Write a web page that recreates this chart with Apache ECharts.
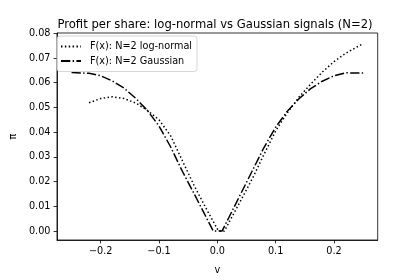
<!DOCTYPE html>
<html>
<head>
<meta charset="utf-8">
<script src="https://cdn.jsdelivr.net/npm/echarts@6/dist/echarts.min.js"></script>
<style>html,body{margin:0;padding:0;background:#fff}#c{width:420px;height:280px}</style>
</head>
<body>
<div id="c"></div>
<script>
const titleText = 'Profit per share: log-normal vs Gaussian signals (N=2)';
const seriesNames = ['F(x): N=2 log-normal', 'F(x): N=2 Gaussian'];
const xTicks = [-0.2, -0.1, 0.0, 0.1, 0.2];
const yTicks = [0.00, 0.01, 0.02, 0.03, 0.04, 0.05, 0.06, 0.07, 0.08];

const vLogn = [-0.22, -0.20, -0.18, -0.16, -0.14, -0.12, -0.10, -0.08, -0.06, -0.04, -0.02, 0.002, 0.012, 0.02, 0.04, 0.06, 0.08, 0.10, 0.12, 0.14, 0.16, 0.18, 0.20, 0.22, 0.25];
const piLogn = [0.0519, 0.0536, 0.0543, 0.0536, 0.0518, 0.0488, 0.0450, 0.0385, 0.0285, 0.0185, 0.0095, 0.0, 0.0, 0.0035, 0.0123, 0.0212, 0.0310, 0.0405, 0.0478, 0.0542, 0.0594, 0.0643, 0.0685, 0.0719, 0.0758];

const vGauss = [-0.25, -0.22, -0.20, -0.18, -0.16, -0.14, -0.12, -0.10, -0.08, -0.06, -0.04, -0.02, -0.007, 0.008, 0.02, 0.04, 0.06, 0.08, 0.10, 0.12, 0.14, 0.16, 0.18, 0.20, 0.22, 0.25];
const piGauss = [0.0641, 0.0638, 0.0628, 0.0607, 0.0578, 0.0537, 0.0488, 0.0425, 0.0340, 0.0242, 0.0152, 0.0060, 0.0, 0.0, 0.0056, 0.0150, 0.0244, 0.0338, 0.0420, 0.0485, 0.0535, 0.0576, 0.0606, 0.0628, 0.0640, 0.0639];

const zip = (a, b) => a.map((v, i) => [v, b[i]]);
const FONT = 'DejaVu Sans';
const chart = echarts.init(document.getElementById('c'), null, {renderer: 'canvas'});
chart.setOption({
  animation: false,
  backgroundColor: '#fff',
  title: {
    text: titleText, left: 215, top: 18, textAlign: 'center', padding: 0,
    textStyle: {fontFamily: FONT, fontSize: 11.6, fontWeight: 'normal', color: '#000', lineHeight: 14}
  },
  legend: {
    orient: 'vertical', left: 57, top: 36,
    padding: [5, 5, 5, 3], itemGap: 3.5, itemWidth: 20, itemHeight: 11,
    borderColor: '#cccccc', borderWidth: 0.8, borderRadius: 3, backgroundColor: 'rgba(255,255,255,0.8)',
    itemStyle: {opacity: 0},
    textStyle: {fontFamily: FONT, fontSize: 9.7, color: '#000', lineHeight: 11, padding: [0, 0, 0, 4]},
    data: seriesNames
  },
  grid: {left: 52.3, right: 42.3, top: 33, bottom: 35.3, show: true, borderColor: '#000', borderWidth: 0.8, backgroundColor: 'transparent'},
  xAxis: {
    type: 'value', min: -0.275, max: 0.275,
    name: 'v', nameLocation: 'middle', nameGap: 25,
    nameTextStyle: {fontFamily: FONT, fontSize: 9.7, color: '#000'},
    axisLine: {show: true, onZero: false, lineStyle: {color: '#000', width: 0.8}},
    axisTick: {show: true, length: 3.4, lineStyle: {color: '#000', width: 0.8}, customValues: xTicks},
    axisLabel: {fontFamily: FONT, fontSize: 9.7, color: '#000', margin: 6, customValues: xTicks,
      formatter: v => v.toFixed(1).replace('-', '\u2212')},
    splitLine: {show: false}
  },
  yAxis: {
    type: 'value', min: -0.0036, max: 0.0801,
    name: 'π', nameLocation: 'middle', nameGap: 38, nameRotate: 90,
    nameTextStyle: {fontFamily: FONT, fontSize: 9.7, color: '#000'},
    axisLine: {show: true, onZero: false, lineStyle: {color: '#000', width: 0.8}},
    axisTick: {show: true, length: 3.4, lineStyle: {color: '#000', width: 0.8}, customValues: yTicks},
    axisLabel: {fontFamily: FONT, fontSize: 9.7, color: '#000', margin: 6.5, customValues: yTicks,
      formatter: v => v.toFixed(2)},
    splitLine: {show: false}
  },
  series: [
    {name: seriesNames[0], type: 'line', data: zip(vLogn, piLogn), showSymbol: false, symbol: 'none',
      lineStyle: {color: '#000', width: 1.5, type: [1.46, 2.4]}, itemStyle: {color: '#000'}},
    {name: seriesNames[1], type: 'line', data: zip(vGauss, piGauss), showSymbol: false, symbol: 'none',
      lineStyle: {color: '#000', width: 1.5, type: [9.3, 2.33, 1.46, 2.33]}, itemStyle: {color: '#000'}}
  ]
});
</script>
</body>
</html>
